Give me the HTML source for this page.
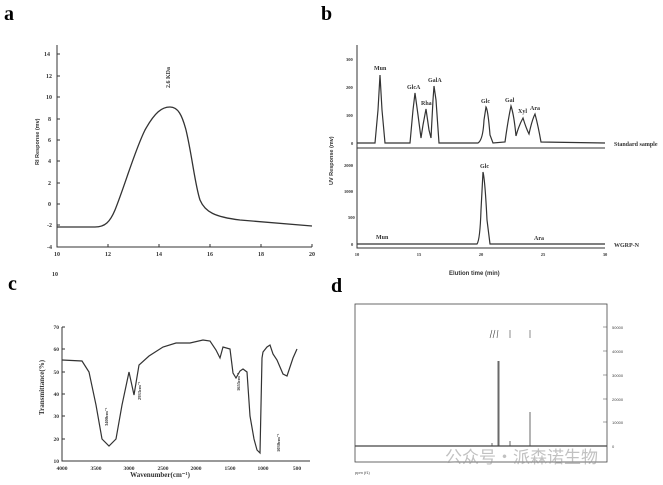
<!DOCTYPE html>
<html><head><meta charset="utf-8"><style>
body{margin:0;background:#fff}
svg{display:block;font-family:"Liberation Serif",serif}
</style></head><body>
<svg width="663" height="485" viewBox="0 0 663 485" xmlns="http://www.w3.org/2000/svg">
<rect width="663" height="485" fill="#fff"/>
<g font-weight="bold" font-size="20"><text x="4" y="20">a</text><text x="321" y="20">b</text><text x="8" y="290">c</text><text x="331" y="292">d</text></g>
<!-- Panel a -->
<g stroke="#333" fill="none" stroke-width="1">
<path d="M57,45 V247 H312"/>
<path d="M57,54 h3 M57,76 h3 M57,97 h3 M57,119 h3 M57,140 h3 M57,161 h3 M57,183 h3 M57,204 h3 M57,225 h3 M108,247 v-3 M159,247 v-3 M210,247 v-3 M261,247 v-3 M312,247 v-3"/>
<path stroke-width="1.3" d="M57,227 L95,227 C105,227 110,222 115,210 C125,185 135,150 145,130 C155,112 162,107 170,107 C178,107 182,115 186,130 C192,155 195,185 200,200 C205,212 215,217 240,220 L312,226"/>
</g>
<g font-size="6" font-weight="bold" fill="#333">
<text x="44" y="56">14</text><text x="46" y="78">12</text><text x="46" y="99">10</text><text x="48" y="121">8</text><text x="48" y="142">6</text><text x="48" y="163">4</text><text x="48" y="185">2</text><text x="48" y="206">0</text><text x="47" y="227">-2</text><text x="47" y="249">-4</text>
<g text-anchor="middle"><text x="57" y="256">10</text><text x="108" y="256">12</text><text x="159" y="256">14</text><text x="210" y="256">16</text><text x="261" y="256">18</text><text x="312" y="256">20</text></g>
<text x="52" y="276">10</text>
<text transform="translate(170,88) rotate(-90)">2.6 KDa</text>
<text transform="translate(39,165) rotate(-90)" font-family="Liberation Sans,sans-serif" font-size="5.5">RI Response (mv)</text>
</g>
<!-- Panel b -->
<g stroke="#333" fill="none" stroke-width="1">
<path d="M357,45 V248 H605 M357,148 H605"/>
<path stroke-width="1.2" d="M357,143 L375,143 L378,110 L380,75 L382,110 L385,143 L410,143 L413,110 L415,93 L418,115 L421,138 L423,125 L426,109 L429,130 L431,138 L433,100 L434,86 L436,100 L439,143 L478,143 Q483,140 484,120 L486,107 Q488,110 490,135 L493,143 L505,142 Q508,120 511,106 Q514,115 516,136 Q519,125 523,118 Q526,128 529,134 Q532,120 535,114 Q538,125 541,142 L605,143"/>
<path stroke-width="1.2" d="M357,244 L477,244 Q480,240 481,210 L483,172 Q485,180 487,220 L490,244 L605,244"/>
</g>
<g font-size="6" font-weight="bold" fill="#333">
<text x="374" y="70">Mun</text><text x="407" y="89">GlcA</text><text x="421" y="105">Rha</text><text x="428" y="82">GalA</text><text x="481" y="103">Glc</text><text x="505" y="102">Gal</text><text x="518" y="113">Xyl</text><text x="530" y="110">Ara</text>
<text x="614" y="146">Standard sample</text><text x="614" y="247">WGRP-N</text>
<text x="480" y="168">Glc</text><text x="376" y="239">Mun</text><text x="534" y="240">Ara</text>
<g font-size="4.5"><text x="346" y="61">300</text><text x="346" y="89">200</text><text x="346" y="117">100</text><text x="351" y="145">0</text><text x="344" y="167">2000</text><text x="344" y="193">1000</text><text x="348" y="219">500</text><text x="351" y="246">0</text></g>
<g text-anchor="middle" font-size="4.5"><text x="357" y="256">10</text><text x="419" y="256">15</text><text x="481" y="256">20</text><text x="543" y="256">25</text><text x="605" y="256">30</text></g>
<text x="449" y="275" font-family="Liberation Sans,sans-serif">Elution time (min)</text>
<text transform="translate(333,185) rotate(-90)" font-family="Liberation Sans,sans-serif" font-size="5.5">UV Response (mv)</text>
</g>
<!-- Panel c -->
<g stroke="#333" fill="none" stroke-width="1">
<path d="M62,327 V461 H310"/>
<path d="M62,327 h3 M62,349 h3 M62,372 h3 M62,394 h3 M62,416 h3 M62,439 h3"/>
<path stroke-width="1.2" d="M62,360 L82,361 L89,372 L96,405 L102,439 L109,446 L116,439 L122,405 L129,372 L134,395 L139,365 L149,356 L163,347 L176,343 L190,343 L203,340 L210,341 L216,350 L220,358 L223,347 L230,349 L233,373 L236,378 L240,371 L243,369 L247,372 L250,416 L254,439 L257,450 L260,453 L262,358 L263,352 L267,347 L270,345 L273,354 L277,360 L283,374 L287,376 L293,358 L297,349"/>
</g>
<g font-size="5.5" font-weight="bold" fill="#333">
<g text-anchor="end"><text x="59" y="329">70</text><text x="59" y="351">60</text><text x="59" y="374">50</text><text x="59" y="396">40</text><text x="59" y="418">30</text><text x="59" y="441">20</text><text x="59" y="463">10</text></g>
<g text-anchor="middle"><text x="62" y="470">4000</text><text x="96" y="470">3500</text><text x="129" y="470">3000</text><text x="163" y="470">2500</text><text x="196" y="470">2000</text><text x="230" y="470">1500</text><text x="263" y="470">1000</text><text x="297" y="470">500</text></g>
<text x="160" y="477" text-anchor="middle" font-size="7">Wavenumber(cm⁻¹)</text>
<text transform="translate(44,415) rotate(-90)" font-size="7">Transmittance(%)</text>
<text transform="translate(108,426) rotate(-90)" font-size="4.5">3400cm⁻¹</text>
<text transform="translate(141,400) rotate(-90)" font-size="4.5">2933cm⁻¹</text>
<text transform="translate(240,391) rotate(-90)" font-size="4.5">1655cm⁻¹</text>
<text transform="translate(280,452) rotate(-90)" font-size="4.5">1030cm⁻¹</text>
</g>
<!-- Panel d -->
<g stroke="#444" fill="none" stroke-width="0.8">
<rect x="355" y="304" width="252" height="158"/>
<path stroke-width="1.3" d="M355,446 H607"/>
<path d="M498,446 V361 M499,446 V361 M510,446 v-5 M530,446 V412 M492,446 v-3"/>
<path stroke-width="0.6" d="M492,330 l-2,8 M495,330 l-2,8 M498,330 l-1,8 M510,330 v8 M530,330 v8 M607,327 h-4 M607,351 h-4 M607,375 h-4 M607,399 h-4 M607,422 h-4"/>
</g>
<g font-size="4" fill="#444" font-family="Liberation Sans,sans-serif">
<text x="612" y="329">50000</text><text x="612" y="353">40000</text><text x="612" y="377">30000</text><text x="612" y="401">20000</text><text x="612" y="424">10000</text><text x="612" y="448">0</text>
<text x="355" y="474">ppm (f1)</text>
</g>
<text x="445" y="463" font-family="Noto Sans CJK SC,sans-serif" font-size="17" fill="#999" opacity="0.6">公众号·派森诺生物</text>
</svg>
</body></html>
